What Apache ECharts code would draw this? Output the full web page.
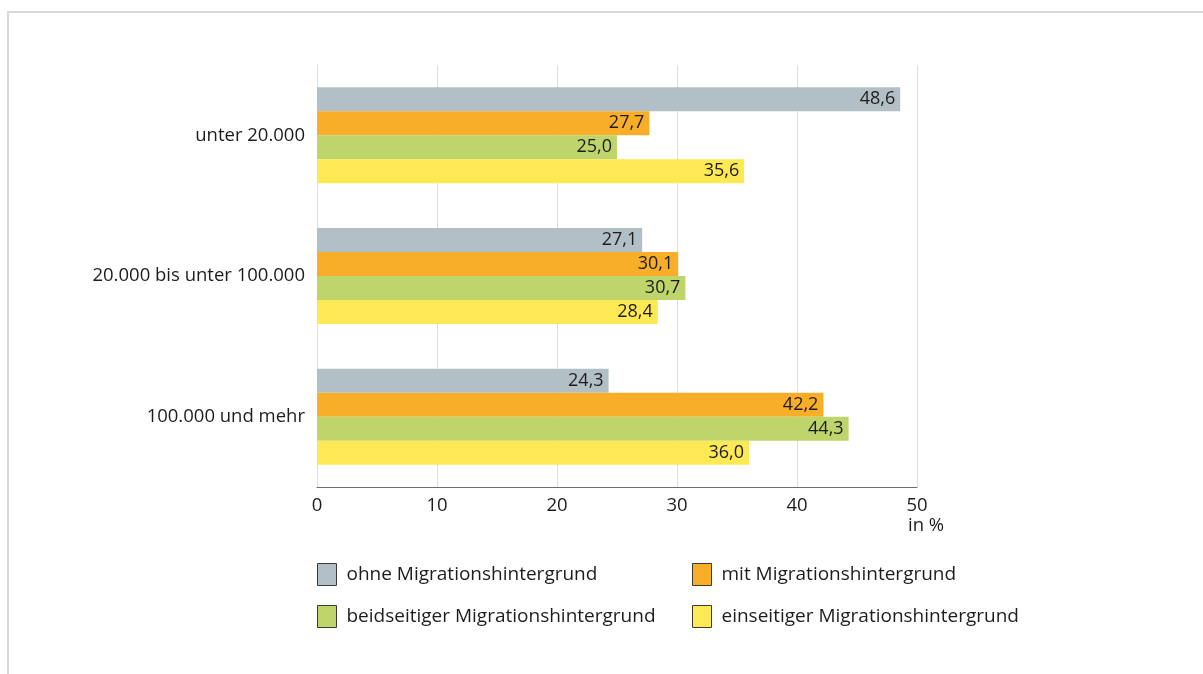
<!DOCTYPE html>
<html>
<head>
<meta charset="utf-8">
<script src="https://cdn.jsdelivr.net/npm/echarts@6/dist/echarts.min.js"></script>
<style>
  html, body { margin: 0; padding: 0; background: #fff; }
  #chart { width: 1203px; height: 674px; }
</style>
</head>
<body>
<div id="chart"></div>
<script>
// Gemeindegrößenklassen
const categories = ['unter 20.000', '20.000 bis unter 100.000', '100.000 und mehr'];

// Anteile in %
const seriesNames = [
  'ohne Migrationshintergrund',
  'mit Migrationshintergrund',
  'beidseitiger Migrationshintergrund',
  'einseitiger Migrationshintergrund'
];
const ohneValues = [48.6, 27.1, 24.3];
const mitValues = [27.7, 30.1, 42.2];
const beidseitigValues = [25.0, 30.7, 44.3];
const einseitigValues = [35.6, 28.4, 36.0];

const xTicks = { min: 0, max: 50, interval: 10 };

const colors = ['#b3bfc6', '#f8ae28', '#bdd56b', '#fde953'];
const valueSets = [ohneValues, mitValues, beidseitigValues, einseitigValues];

const FONT = '"Open Sans", "Noto Sans", sans-serif';
const TEXT = '#1f1c1d';

const fmt = v => v.toFixed(1).replace('.', ',');

const series = seriesNames.map((name, i) => ({
  name,
  type: 'bar',
  data: valueSets[i],
  barGap: '0%',
  barCategoryGap: '31.8%',
  itemStyle: { color: colors[i] },
  label: {
    show: true,
    position: 'insideRight',
    distance: 5,
    color: TEXT,
    fontFamily: FONT,
    fontSize: 18,
    formatter: p => fmt(p.value)
  },
  emphasis: { disabled: true }
}));

const legendSlots = [
  { left: 317, top: 563 },
  { left: 692, top: 563 },
  { left: 317, top: 605 },
  { left: 692, top: 605 }
];

const legends = seriesNames.map((name, i) => ({
  data: [name],
  left: legendSlots[i].left,
  top: legendSlots[i].top,
  padding: 0,
  icon: 'rect',
  itemWidth: 19,
  itemHeight: 22,
  itemGap: 0,
  selectedMode: false,
  itemStyle: { borderColor: '#3a3a3a', borderWidth: 1 },
  textStyle: {
    color: TEXT,
    fontFamily: FONT,
    fontSize: 19,
    padding: [0, 0, 0, 5]
  }
}));

const chart = echarts.init(document.getElementById('chart'), null, { renderer: 'canvas' });
chart.setOption({
  animation: false,
  backgroundColor: '#ffffff',
  textStyle: { fontFamily: FONT },
  grid: { left: 317, right: 286, top: 65, bottom: 187 },
  legend: legends,
  xAxis: {
    type: 'value',
    min: xTicks.min,
    max: xTicks.max,
    interval: xTicks.interval,
    axisLine: { show: true, lineStyle: { color: '#6d6d6d', width: 1 } },
    axisTick: { show: false },
    splitLine: { show: true, lineStyle: { color: '#dedede', width: 1 } },
    axisLabel: {
      color: TEXT,
      fontFamily: FONT,
      fontSize: 18.5,
      margin: 9
    }
  },
  yAxis: {
    type: 'category',
    data: categories,
    inverse: true,
    axisLine: { show: true, lineStyle: { color: '#dedede', width: 1 } },
    axisTick: { show: false },
    splitLine: { show: false },
    axisLabel: {
      color: TEXT,
      fontFamily: FONT,
      fontSize: 18.5,
      margin: 12
    }
  },
  graphic: [
    {
      type: 'rect',
      shape: { x: 8, y: 12, width: 1300, height: 800 },
      style: { fill: 'none', stroke: '#d9d9d9', lineWidth: 2 },
      silent: true,
      z: -1
    },
    {
      type: 'text',
      left: 908,
      top: 516,
      style: { text: 'in %', fill: TEXT, font: '18.5px ' + FONT }
    }
  ],
  series
});
</script>
</body>
</html>
